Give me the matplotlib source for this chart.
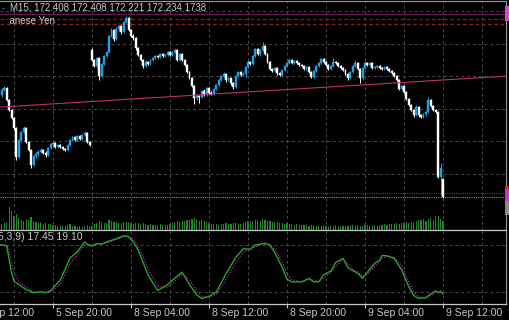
import numpy as np
import pandas as pd
import matplotlib
matplotlib.use("Agg")
import matplotlib.pyplot as plt

plt.rcParams['font.family'] = ['Liberation Sans', 'DejaVu Sans']

# EURJPY M15, Fri 5 Sep 14:45 -> Tue 9 Sep 12:00 (2025)
fri_open = 173.25
fri_close = [173.30, 173.32, 173.20, 173.10, 173.02, 172.92, 172.63, 172.80, 172.88, 172.92,
             172.78, 172.70, 172.55, 172.64, 172.66, 172.68, 172.70, 172.67, 172.65, 172.72,
             172.76, 172.77, 172.73, 172.75, 172.73, 172.71, 172.70, 172.75, 172.80, 172.83,
             172.80, 172.84, 172.81, 172.85, 172.87, 172.78, 172.75]
fri_high = [173.32, 173.34, 173.33, 173.21, 173.11, 173.03, 172.93, 172.81, 172.89, 172.94,
            172.93, 172.79, 172.71, 172.65, 172.68, 172.70, 172.72, 172.71, 172.69, 172.73,
            172.77, 172.79, 172.78, 172.76, 172.76, 172.74, 172.72, 172.76, 172.81, 172.84,
            172.84, 172.85, 172.85, 172.86, 172.89, 172.88, 172.79]
fri_low = [173.23, 173.29, 173.19, 173.09, 173.01, 172.90, 172.60, 172.62, 172.78, 172.87,
           172.77, 172.69, 172.52, 172.54, 172.62, 172.64, 172.67, 172.66, 172.63, 172.64,
           172.71, 172.74, 172.72, 172.72, 172.72, 172.70, 172.69, 172.69, 172.74, 172.79,
           172.79, 172.79, 172.80, 172.80, 172.84, 172.77, 172.74]

mon_open = 173.70
mon_close = [173.60, 173.54, 173.62, 173.44, 173.56, 173.64, 173.68, 173.84, 173.90, 173.81,
             173.91, 173.94, 173.88, 173.98, 174.02, 173.90, 173.84, 173.82, 173.72, 173.65,
             173.60, 173.54, 173.58, 173.56, 173.60, 173.62, 173.64, 173.63, 173.66, 173.64,
             173.65, 173.68, 173.65, 173.68, 173.70, 173.60, 173.66, 173.60, 173.55, 173.48,
             173.42, 173.34, 173.22, 173.24, 173.23, 173.29, 173.25, 173.32, 173.27, 173.26,
             173.31, 173.35, 173.40, 173.44, 173.46, 173.40, 173.42, 173.37, 173.33, 173.44,
             173.48, 173.45, 173.46, 173.53, 173.58, 173.56, 173.64, 173.71, 173.66, 173.70,
             173.74, 173.66, 173.58, 173.51, 173.49, 173.52, 173.47, 173.45, 173.50, 173.54,
             173.57, 173.60, 173.57, 173.59, 173.57, 173.55, 173.54, 173.51, 173.53, 173.48,
             173.43, 173.49, 173.54, 173.57, 173.61, 173.58, 173.55, 173.51, 173.54, 173.58,
             173.57, 173.54, 173.52, 173.50, 173.46, 173.42, 173.48, 173.54, 173.57, 173.51,
             173.42, 173.52, 173.57, 173.55, 173.57, 173.52, 173.53, 173.54, 173.52, 173.51,
             173.53, 173.51, 173.49, 173.47, 173.44, 173.40, 173.31, 173.34, 173.28, 173.21,
             173.15, 173.10, 173.05, 173.13, 173.05, 173.03, 173.06, 173.08, 173.20, 173.14,
             173.10, 173.08, 172.43, 172.52, 172.234]
mon_high = [173.72, 173.61, 173.63, 173.63, 173.57, 173.65, 173.69, 173.85, 173.92, 173.91,
            173.93, 173.95, 173.95, 173.99, 174.04, 174.03, 173.91, 173.86, 173.83, 173.73,
            173.66, 173.61, 173.60, 173.59, 173.61, 173.63, 173.65, 173.65, 173.67, 173.67,
            173.66, 173.69, 173.69, 173.69, 173.71, 173.71, 173.67, 173.67, 173.61, 173.56,
            173.49, 173.43, 173.35, 173.26, 173.25, 173.30, 173.31, 173.33, 173.33, 173.29,
            173.32, 173.36, 173.41, 173.45, 173.48, 173.47, 173.43, 173.43, 173.38, 173.45,
            173.49, 173.49, 173.48, 173.54, 173.60, 173.59, 173.65, 173.72, 173.72, 173.71,
            173.78, 173.75, 173.67, 173.59, 173.52, 173.53, 173.53, 173.48, 173.51, 173.55,
            173.58, 173.61, 173.61, 173.60, 173.60, 173.58, 173.56, 173.55, 173.54, 173.54,
            173.49, 173.50, 173.55, 173.58, 173.62, 173.62, 173.59, 173.56, 173.55, 173.62,
            173.59, 173.58, 173.55, 173.53, 173.51, 173.47, 173.49, 173.55, 173.60, 173.58,
            173.52, 173.53, 173.59, 173.58, 173.58, 173.58, 173.54, 173.55, 173.55, 173.53,
            173.54, 173.54, 173.52, 173.50, 173.48, 173.45, 173.41, 173.35, 173.35, 173.29,
            173.22, 173.16, 173.11, 173.15, 173.14, 173.06, 173.07, 173.09, 173.23, 173.21,
            173.15, 173.11, 173.09, 172.57, 172.408]
mon_low = [173.59, 173.53, 173.52, 173.40, 173.43, 173.55, 173.63, 173.67, 173.83, 173.79,
           173.80, 173.89, 173.86, 173.87, 173.97, 173.89, 173.83, 173.80, 173.70, 173.64,
           173.59, 173.52, 173.53, 173.55, 173.55, 173.59, 173.61, 173.62, 173.62, 173.63,
           173.63, 173.64, 173.64, 173.64, 173.67, 173.59, 173.59, 173.59, 173.54, 173.47,
           173.41, 173.33, 173.16, 173.20, 173.17, 173.22, 173.24, 173.24, 173.26, 173.25,
           173.25, 173.30, 173.34, 173.39, 173.43, 173.38, 173.39, 173.35, 173.31, 173.32,
           173.43, 173.44, 173.44, 173.43, 173.52, 173.55, 173.55, 173.63, 173.65, 173.64,
           173.69, 173.65, 173.57, 173.50, 173.48, 173.48, 173.45, 173.44, 173.44, 173.49,
           173.53, 173.56, 173.56, 173.56, 173.56, 173.54, 173.53, 173.50, 173.50, 173.47,
           173.42, 173.42, 173.48, 173.53, 173.56, 173.57, 173.54, 173.50, 173.50, 173.53,
           173.56, 173.53, 173.51, 173.49, 173.45, 173.40, 173.41, 173.47, 173.53, 173.50,
           173.37, 173.40, 173.51, 173.54, 173.54, 173.51, 173.51, 173.52, 173.51, 173.50,
           173.50, 173.50, 173.48, 173.46, 173.43, 173.39, 173.30, 173.30, 173.27, 173.20,
           173.14, 173.09, 173.03, 173.04, 173.03, 173.02, 173.02, 173.04, 173.07, 173.13,
           173.09, 173.07, 172.42, 172.25, 172.221]
last_open = 172.408

fri_volume = [1150, 1330, 1520, 4400, 3600, 2650, 3050, 2300, 1900, 1700, 2100, 1900, 2500,
              1700, 1500, 1350, 1500, 1150, 1300, 1150, 1150, 950, 950, 760, 950, 760, 760,
              950, 1150, 760, 760, 600, 760, 600, 760, 950, 760]
mon_volume = [700, 1100, 1300, 1700, 1500, 1400, 1300, 1900, 1700, 1600, 1500, 1400, 1300, 1500, 1600,
              1500, 1300, 1200, 1400, 1300, 1200, 1400, 1100, 1000, 1100, 900, 1000, 900, 1100, 1000,
              900, 1000, 1200,
              1400, 1500, 1700, 1600, 1800, 1700, 1900, 2000, 2100, 2300, 2000, 1800, 1900, 1700, 1500,
              1300, 1200, 1100, 1200, 1000, 1100, 1200, 1300, 1100, 1200, 1300, 1400, 1200, 1100, 1300,
              1500, 1700, 1800, 1700, 1900, 2000, 1800, 2100, 1900, 1700, 1800, 1600, 1500, 1600,
              1400, 1300, 1200, 1300, 1100, 1200, 1000, 1100, 1000, 900, 1000,
              900, 800, 900, 1000, 800, 700, 800, 900, 700, 600, 700, 800, 900, 700, 600, 700, 800,
              700, 900, 1000, 800, 900, 700, 800, 900, 1000, 800, 700, 900, 800, 1000, 900, 1100,
              1000, 1200,
              1200, 1100, 1300, 1200, 1400, 1300, 1500, 1400, 1600, 1500,
              1800, 2000, 1900, 2200, 1800, 2100, 2300, 2000, 2600, 2700, 2200, 1738]

stoch_times = ["09-05 14:30", "09-05 14:45", "09-05 15:15", "09-05 15:30", "09-05 15:45", "09-05 16:00",
               "09-05 16:30", "09-05 17:15", "09-05 18:00", "09-05 18:45", "09-05 19:15", "09-05 19:45",
               "09-05 20:45", "09-05 21:45", "09-05 22:30", "09-05 23:15", "09-05 23:30",
               "09-08 00:00", "09-08 00:30", "09-08 01:00", "09-08 01:45", "09-08 02:30", "09-08 03:15",
               "09-08 03:45", "09-08 04:15", "09-08 04:45", "09-08 05:45", "09-08 06:15", "09-08 06:45",
               "09-08 07:45", "09-08 08:30", "09-08 09:15", "09-08 10:00", "09-08 10:45", "09-08 11:15",
               "09-08 12:00", "09-08 12:45", "09-08 13:45", "09-08 14:45", "09-08 15:30", "09-08 16:15",
               "09-08 16:45", "09-08 17:45", "09-08 18:15", "09-08 18:45", "09-08 19:30", "09-08 20:00",
               "09-08 20:30", "09-08 21:30", "09-08 22:15", "09-08 22:45", "09-08 23:15", "09-08 23:45",
               "09-09 00:30", "09-09 01:00", "09-09 01:45", "09-09 02:15", "09-09 02:45", "09-09 03:15",
               "09-09 03:45", "09-09 04:15", "09-09 05:00", "09-09 05:30", "09-09 05:45", "09-09 06:15",
               "09-09 07:00", "09-09 07:45", "09-09 08:30", "09-09 09:00", "09-09 09:30", "09-09 10:15",
               "09-09 10:45", "09-09 11:15", "09-09 11:30", "09-09 11:45", "09-09 12:00"]
stoch_k = [80.5, 80.5, 79.5, 62, 45, 34, 29.5, 23, 19, 20.5, 19, 21.5, 35.5, 63.5, 72, 84.5, 81,
           79, 82.5, 81.5, 85.5, 88.5, 92.5, 91, 84, 73.5, 42, 31.5, 22, 29.5, 38, 45.5, 29.5, 16,
           11.5, 14.5, 20, 43.5, 64.5, 75.5, 75, 80.5, 82.5, 80, 70.5, 52, 36.5, 33, 33, 37.5, 33,
           33, 42, 47, 58, 63, 51.5, 47.5, 44, 37.5, 45.5, 57, 61, 67, 66.5, 63, 48.5, 26.5, 15.5,
           11.8, 12.8, 17.5, 21.5, 19, 21, 17.45]
stoch_d = [80, 80, 80, 72, 58, 46, 33, 26, 20.5, 19.5, 19.5, 20, 30, 56, 68, 80, 82,
           80, 81, 82, 84, 87.5, 91, 91.5, 88, 79, 50, 38, 27, 26, 34, 43, 36, 21,
           14, 13, 17, 36, 58, 71, 75, 78, 82, 81.5, 75, 59, 43, 36, 33, 36, 35,
           33.5, 38, 45, 53, 62, 56, 49.5, 46, 40, 43, 53, 59, 63, 66.5, 64.5, 54, 33, 20,
           14, 12.5, 15.5, 19.5, 20, 20, 19.10]

label_times = ["2025-09-05 12:00", "2025-09-05 20:00", "2025-09-08 04:00", "2025-09-08 12:00",
               "2025-09-08 20:00", "2025-09-09 04:00", "2025-09-09 12:00"]
trend_times = ["2025-09-05 14:45", "2025-09-09 12:00"]
trend_prices = [173.13, 173.40]
top_line = 174.065
red_levels = [174.01, 173.96]
ask, bid = 172.27, 172.234

# ---- build series
fri_t = pd.date_range("2025-09-05 14:45", periods=len(fri_close), freq="15min")
mon_t = pd.date_range("2025-09-08 00:00", periods=len(mon_close), freq="15min")
close = np.array(fri_close + mon_close)
high = np.array(fri_high + mon_high)
low = np.array(fri_low + mon_low)
opn = np.r_[fri_open, close[:-1]]
opn[len(fri_close)] = mon_open
opn[-1] = last_open
high = np.maximum(high, np.maximum(opn, close))
low = np.minimum(low, np.minimum(opn, close))
vol = np.array(fri_volume + mon_volume)
x = np.arange(len(close))
step = pd.Timedelta("15min")


def pos(t):
    t = pd.Timestamp(t)
    if t < mon_t[0]:
        return (t - fri_t[0]) / step
    return len(fri_t) + (t - mon_t[0]) / step


BG = 'black'
GRID = '#4a4a4a'
TXT = '#c8c8c8'
W, H = 510, 320

fig = plt.figure(figsize=(W / 100, H / 100), dpi=100, facecolor=BG)
rect_main = [0, 90 / H, 506 / W, 229 / H]
ax_v = fig.add_axes(rect_main)
ax = fig.add_axes(rect_main)
ax_st = fig.add_axes([0, 16 / H, 506 / W, 73 / H])
ax_v.set_facecolor(BG)
ax.patch.set_visible(False)
ax_st.set_facecolor(BG)

xlim = (-0.744, 206.85)
for a in (ax, ax_v, ax_st):
    a.set_yticks([])
    for s in a.spines.values():
        s.set_visible(False)
ax_v.set_xticks([])
ax.set_xticks([])

# time axis ticks (set before limits, set_xticks can widen the view)
lab_pos = [pos(t) for t in label_times]
ax_st.set_xticks(lab_pos)
ax_st.tick_params(axis='x', direction='out', length=3, width=0.8, color=TXT, labelbottom=False)

for a in (ax, ax_v, ax_st):
    a.set_xlim(*xlim)
ax.set_ylim(171.90, 174.19)
ax_v.set_ylim(0, vol.max() * 10)
ax_st.set_ylim(4.6, 98.4)

# grid
grid_t = list(pd.date_range("2025-09-05 12:00", "2025-09-05 20:00", freq="4h")) + \
         list(pd.date_range("2025-09-08 00:00", "2025-09-09 20:00", freq="4h"))
for t in grid_t:
    for a in (ax, ax_st):
        a.axvline(pos(t), color=GRID, lw=0.7, ls=(0, (3, 3)), zorder=0)
for p in np.arange(172.465, 174.1, 0.325):
    ax.axhline(p, color=GRID, lw=0.7, ls=(0, (3, 3)), zorder=0)
for lv in (20, 80):
    ax_st.axhline(lv, color=GRID, lw=0.7, ls=(0, (3, 3)), zorder=0)

# volumes
ax_v.bar(x, vol, width=0.5, color='#23862a', linewidth=0)

# candles
cols = np.where(close > opn, '#1ea0e6', 'white')
ax.vlines(x, low, high, colors=cols, lw=0.7, zorder=3)
ax.bar(x, np.abs(close - opn), bottom=np.minimum(opn, close), width=0.8,
       color=cols, edgecolor=cols, linewidth=0.3, zorder=4)

# objects
ax.axhline(top_line, color='#6a1650', lw=0.9, zorder=2)
for lv in red_levels:
    ax.axhline(lv, color='#8a1c1c', lw=0.9, ls=(0, (3, 2)), zorder=2)
ax.axhline(ask, color='#c01a1a', lw=0.8, ls=(0, (1, 1)), zorder=2)
ax.axhline(bid, color='#8a8aa8', lw=0.8, ls=(0, (1, 1)), zorder=2)
ax.axline((pos(trend_times[0]), trend_prices[0]), (pos(trend_times[1]), trend_prices[1]),
          color='#c0306e', lw=0.8, zorder=5)

# right-hand price tags (cut by the frame edge)
for price, fc in [(top_line, '#e040d0'), (ask, '#e01818'), (bid, '#d030d0'), (172.12, '#8a8a8a')]:
    ax.annotate(f"{price:.3f}", xy=(1.0, price), xycoords=('axes fraction', 'data'),
                xytext=(1.2, 0), textcoords='offset points', va='center', ha='left',
                fontsize=7, color='white', annotation_clip=False,
                bbox=dict(boxstyle='square,pad=0.25', fc=fc, ec='none'))

# stochastic
st_x = [pos("2025-" + t) for t in stoch_times]
ax_st.plot(st_x, stoch_k, color='#22a822', lw=1.0, zorder=3)
ax_st.plot(st_x, stoch_d, color='#d030d0', lw=0.8, ls=(0, (1, 1.5)), zorder=2)

# frames
ax.plot([0, 1], [1, 1], transform=ax.transAxes, color='#9a9a9a', lw=0.8, clip_on=False)
ax.plot([1, 1], [0, 1], transform=ax.transAxes, color='#9a9a9a', lw=0.8, clip_on=False)
ax_st.plot([1, 1], [0, 1], transform=ax_st.transAxes, color='#9a9a9a', lw=0.8, clip_on=False)
ax_st.plot([0, 1], [1.018, 1.018], transform=ax_st.transAxes, color='#c8c8c8', lw=0.9, clip_on=False)
ax_st.plot([0, 1], [0, 0], transform=ax_st.transAxes, color='#c8c8c8', lw=0.9, clip_on=False)

for t, p in zip(label_times, lab_pos):
    ts = pd.Timestamp(t)
    ax_st.annotate(f"{ts.day} {ts:%b %H:%M}", xy=(p, 0), xycoords=('data', 'axes fraction'),
                   xytext=(2.2, -3.2), textcoords='offset points', ha='left', va='top',
                   fontsize=7.5, color=TXT, annotation_clip=False)

# header texts
ax_hdr = fig.add_axes([10 / W, 1 - 30 / H, 300 / W, 30 / H])
ax_hdr.set_axis_off()
ax_hdr.text(0, 1 - 8 / 30, "M15, 172.408 172.408 172.221 172.234 1738", transform=ax_hdr.transAxes,
            ha='left', va='center', fontsize=7, color=TXT, clip_on=True)
ax_hdr.text(45 / 300, 1 - 21 / 30, "Euro vs Japanese Yen", transform=ax_hdr.transAxes,
            ha='right', va='center', fontsize=7, color=TXT, clip_on=True)
fig.text(2 / W, 1 - 8 / H, "-", fontsize=7, color='#1ea0e6', ha='left', va='center')
fig.text(-2 / W, 1 - 237 / H, "Stoch(", fontsize=7.5, color=TXT, ha='right', va='center')
fig.text(-2 / W, 1 - 237 / H, "5,3,9) 17.45 19.10", fontsize=7.5, color=TXT, ha='left', va='center')

fig.savefig("out.png", dpi=100, facecolor=BG)
